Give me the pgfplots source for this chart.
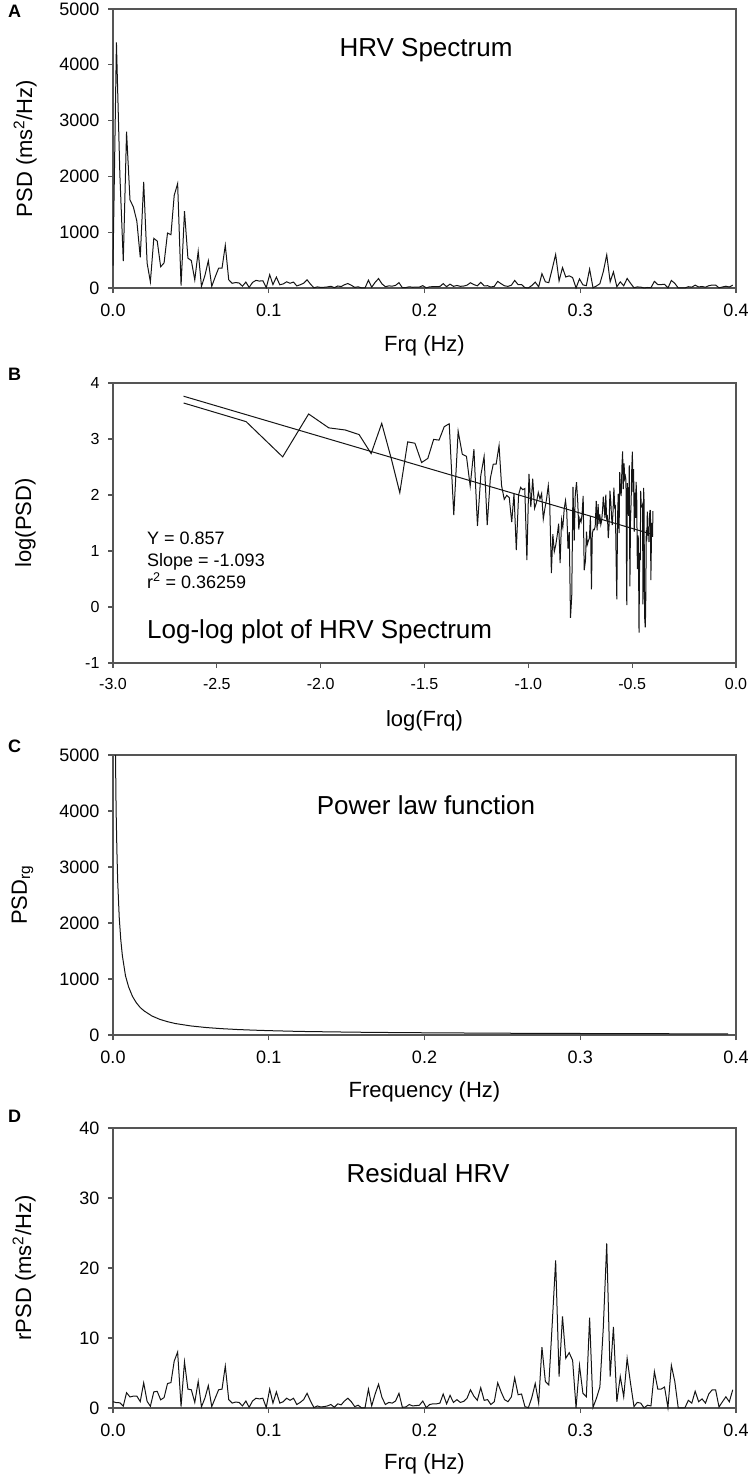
\documentclass[border=0pt]{standalone}
\usepackage{fontspec}
\setmainfont{Liberation Sans}
\usepackage{pgfplots}
\pgfplotsset{compat=1.18}
\usepackage{pgfplotstable}
\definecolor{axgray}{RGB}{85,85,85}
\definecolor{linecol}{RGB}{20,20,20}

\pgfplotstableread{
k f psd lx ly r
0 0.0000 400 nan nan 0.9
1 0.0022 4400 -2.660 3.643 0.76
2 0.0044 2040 -2.359 3.310 0.75
3 0.0066 480 -2.183 2.681 0.27
4 0.0087 2800 -2.058 3.447 2.19
5 0.0109 1580 -1.961 3.199 1.58
6 0.0131 1450 -1.882 3.161 1.7
7 0.0153 1200 -1.815 3.079 1.7
8 0.0175 550 -1.757 2.740 0.92
9 0.0197 1900 -1.706 3.279 3.6
10 0.0219 447 -1.660 2.650 0.95
11 0.0240 110 -1.619 2.041 0.26
12 0.0262 890 -1.581 2.949 2.31
13 0.0284 840 -1.546 2.924 2.38
14 0.0306 380 -1.514 2.580 1.17
15 0.0328 450 -1.484 2.653 1.49
16 0.0350 985 -1.456 2.993 3.5
17 0.0372 955 -1.430 2.980 3.63
18 0.0393 1660 -1.405 3.220 6.7
19 0.0415 1870 -1.381 3.272 8.0
20 0.0437 44 -1.359 1.643 0.2
21 0.0459 1377 -1.338 3.139 6.6
22 0.0481 535 -1.318 2.728 2.7
23 0.0503 491 -1.298 2.691 2.6
24 0.0525 144 -1.280 2.158 0.8
25 0.0547 656 -1.262 2.817 3.8
26 0.0568 28 -1.245 1.447 0.17
27 0.0590 222 -1.229 2.346 1.4
28 0.0612 488 -1.213 2.688 3.2
29 0.0634 29 -1.198 1.462 0.2
30 0.0656 198 -1.183 2.297 1.4
31 0.0678 354 -1.169 2.549 2.6
32 0.0700 356 -1.155 2.551 2.7
33 0.0721 764 -1.141 2.883 6.0
34 0.0743 148 -1.129 2.170 1.2
35 0.0765 84 -1.116 1.922 0.7
36 0.0787 98 -1.104 1.993 0.85
37 0.0809 90 -1.092 1.954 0.8
38 0.0831 33 -1.080 1.515 0.3
39 0.0853 106 -1.069 2.026 1.0
40 0.0874 10 -1.058 1.014 0.1
41 0.0896 100 -1.047 2.002 1.0
42 0.0918 137 -1.037 2.137 1.4
43 0.0940 124 -1.027 2.094 1.3
44 0.0962 130 -1.017 2.115 1.4
45 0.0984 7 -1.007 0.839 0.076
46 0.1006 239 -0.997 2.378 2.7
47 0.1027 61 -0.988 1.783 0.7
48 0.1049 195 -0.979 2.290 2.3
49 0.1071 58 -0.970 1.763 0.7
50 0.1093 73 -0.961 1.862 0.9
51 0.1115 111 -0.952 2.044 1.4
52 0.1137 85 -0.944 1.930 1.1
53 0.1159 106 -0.936 2.027 1.4
54 0.1180 37 -0.928 1.571 0.5
55 0.1202 58 -0.920 1.766 0.8
56 0.1224 86 -0.912 1.933 1.2
57 0.1246 147 -0.904 2.168 2.1
58 0.1268 69 -0.897 1.838 1.0
59 0.1290 4 -0.889 0.607 0.06
60 0.1312 20 -0.882 1.299 0.3
61 0.1333 10 -0.875 0.990 0.15
62 0.1355 13 -0.868 1.107 0.2
63 0.1377 19 -0.861 1.276 0.3
64 0.1399 31 -0.854 1.490 0.5
65 0.1421 6 -0.847 0.783 0.1
66 0.1443 36 -0.840 1.554 0.6
67 0.1465 26 -0.834 1.422 0.45
68 0.1486 58 -0.827 1.762 1.0
69 0.1508 80 -0.821 1.901 1.4
70 0.1530 50 -0.815 1.702 0.9
71 0.1552 11 -0.809 1.043 0.2
72 0.1574 22 -0.803 1.337 0.4
73 0.1596 0.6 -0.797 -0.192 0.012
74 0.1618 1.6 -0.791 0.199 0.03
75 0.1640 140 -0.785 2.147 2.7
76 0.1661 15 -0.779 1.186 0.3
77 0.1683 101 -0.774 2.005 2.0
78 0.1705 169 -0.768 2.228 3.4
79 0.1727 73 -0.762 1.866 1.5
80 0.1749 24 -0.757 1.384 0.5
81 0.1771 38 -0.752 1.583 0.8
82 0.1793 33 -0.746 1.518 0.7
83 0.1814 47 -0.741 1.668 1.0
84 0.1836 96 -0.736 1.984 2.1
85 0.1858 5 -0.731 0.657 0.1
86 0.1880 7 -0.725 0.826 0.15
87 0.1902 22 -0.720 1.344 0.5
88 0.1924 13 -0.716 1.117 0.3
89 0.1946 15 -0.711 1.179 0.35
90 0.1967 17 -0.706 1.231 0.4
91 0.1989 42 -0.701 1.624 1.0
92 0.2011 2 -0.696 0.317 0.05
93 0.2033 21 -0.692 1.313 0.5
94 0.2055 24 -0.687 1.387 0.6
95 0.2077 24 -0.682 1.381 0.6
96 0.2099 28 -0.678 1.444 0.7
97 0.2120 78 -0.673 1.894 2.0
98 0.2142 23 -0.669 1.367 0.6
99 0.2164 69 -0.664 1.838 1.8
100 0.2186 30 -0.660 1.482 0.8
101 0.2208 45 -0.656 1.654 1.2
102 0.2230 30 -0.651 1.472 0.8
103 0.2252 35 -0.647 1.543 0.95
104 0.2273 51 -0.643 1.706 1.4
105 0.2295 94 -0.639 1.971 2.6
106 0.2317 61 -0.635 1.782 1.7
107 0.2339 39 -0.631 1.588 1.1
108 0.2361 101 -0.627 2.005 2.9
109 0.2383 38 -0.623 1.580 1.1
110 0.2405 41 -0.619 1.613 1.2
111 0.2426 17 -0.615 1.229 0.5
112 0.2448 30 -0.611 1.479 0.9
113 0.2470 119 -0.607 2.077 3.6
114 0.2492 76 -0.603 1.879 2.3
115 0.2514 39 -0.599 1.591 1.2
116 0.2536 29 -0.596 1.463 0.9
117 0.2558 51 -0.592 1.709 1.6
118 0.2579 136 -0.588 2.133 4.3
119 0.2601 60 -0.584 1.775 1.9
120 0.2623 62 -0.581 1.794 2.0
121 0.2645 6 -0.577 0.789 0.2
122 0.2667 1.4 -0.574 0.138 0.045
123 0.2689 45 -0.570 1.657 1.5
124 0.2711 105 -0.567 2.021 3.5
125 0.2733 21 -0.563 1.318 0.7
126 0.2754 257 -0.560 2.410 8.7
127 0.2776 111 -0.556 2.045 3.8
128 0.2798 96 -0.553 1.981 3.3
129 0.2820 344 -0.549 2.537 12
130 0.2842 600 -0.546 2.778 21.1
131 0.2864 127 -0.543 2.104 4.5
132 0.2886 366 -0.539 2.564 13.1
133 0.2907 197 -0.536 2.294 7.1
134 0.2929 218 -0.533 2.338 7.9
135 0.2951 186 -0.530 2.270 6.8
136 0.2973 1.1 -0.526 0.035 0.04
137 0.2995 164 -0.523 2.214 6.1
138 0.3017 56 -0.520 1.748 2.1
139 0.3039 42 -0.517 1.627 1.6
140 0.3060 339 -0.514 2.530 12.9
141 0.3082 2.3 -0.511 0.370 0.09
142 0.3104 36 -0.508 1.559 1.4
143 0.3126 77 -0.505 1.887 3.0
144 0.3148 293 -0.502 2.467 11.5
145 0.3170 594 -0.499 2.774 23.5
146 0.3192 113 -0.496 2.053 4.5
147 0.3213 288 -0.493 2.460 11.6
148 0.3235 22 -0.490 1.347 0.9
149 0.3257 110 -0.487 2.043 4.5
150 0.3279 39 -0.484 1.591 1.6
151 0.3301 171 -0.481 2.234 7.1
152 0.3323 84 -0.478 1.924 3.5
153 0.3345 5 -0.475 0.678 0.2
154 0.3366 19 -0.472 1.277 0.8
155 0.3388 16 -0.470 1.216 0.7
156 0.3410 0.3 -0.467 -0.456 0.015
157 0.3432 9 -0.464 0.967 0.4
158 0.3454 7 -0.461 0.838 0.3
159 0.3476 119 -0.459 2.075 5.2
160 0.3498 61 -0.456 1.787 2.7
161 0.3519 61 -0.453 1.784 2.7
162 0.3541 67 -0.450 1.826 3.0
163 0.3563 1.1 -0.448 0.046 0.05
164 0.3585 135 -0.445 2.129 6.1
165 0.3607 84 -0.443 1.922 3.8
166 0.3629 0.7 -0.440 -0.184 0.03
167 0.3651 0.4 -0.437 -0.364 0.02
168 0.3672 0.9 -0.435 -0.065 0.04
169 0.3694 23 -0.432 1.371 1.1
170 0.3716 15 -0.430 1.173 0.7
171 0.3738 51 -0.427 1.704 2.4
172 0.3760 19 -0.424 1.275 0.9
173 0.3782 27 -0.422 1.433 1.3
174 0.3804 14 -0.419 1.161 0.7
175 0.3825 41 -0.417 1.614 2.0
176 0.3847 53 -0.414 1.725 2.6
177 0.3869 53 -0.412 1.723 2.6
178 0.3891 3 -0.410 0.482 0.15
179 0.3913 18 -0.407 1.256 0.9
180 0.3935 32 -0.405 1.504 1.6
181 0.3957 18 -0.402 1.251 0.9
182 0.3979 51 -0.400 1.710 2.6
}\hrv

\pgfplotstableread{
f p
0.0016 5000
0.0020 4000
0.0025 3300
0.0030 2750
0.0040 2100
0.0050 1700
0.0060 1420
0.0080 1060
0.0100 860
0.0125 690
0.0150 575
0.0175 490
0.0200 430
0.0250 340
0.0300 280
0.0350 238
0.0400 205
0.0500 162
0.0600 133
0.0700 113
0.0800 98
0.0900 87
0.1000 78
0.1200 64
0.1400 56
0.1600 49
0.1800 44
0.2000 40
0.2500 32
0.3000 27
0.3500 23
0.3950 20
}\powerlaw

\pgfplotsset{
  panel/.style={
    scale only axis, width=623pt, height=280pt, anchor=north west,
    axis line style={draw=axgray, line width=1.4pt},
    every tick/.style={draw=axgray, line width=1.2pt},
    tick align=outside, major tick length=5pt,
    xtick pos=left, ytick pos=left,
    clip=false, enlargelimits=false,
    tick label style={font=\fontsize{18}{18}\selectfont, text=black},
    xticklabel style={yshift=-7pt},
    yticklabel style={xshift=-5pt},
  },
  dataline/.style={color=linecol, line width=1pt, mark=none},
}

\begin{document}
\begin{tikzpicture}[x=1pt,y=1pt]
\useasboundingbox (0,0) rectangle (751,-1479);

% ---------------- A
\begin{axis}[panel, at={(113pt,-9pt)}, height=279pt,
  xmin=0, xmax=0.4, ymin=0, ymax=5000,
  xtick={0,0.1,0.2,0.3,0.4}, xticklabels={0.0,0.1,0.2,0.3,0.4},
  ytick={0,1000,2000,3000,4000,5000}, yticklabels={0,1000,2000,3000,4000,5000}]
\addplot[dataline] table[x=f, y=psd]{\hrv};
\end{axis}

% ---------------- B
\begin{axis}[panel, at={(113pt,-383pt)},
  xmin=-3, xmax=0, ymin=-1, ymax=4,
  tick label style={font=\fontsize{16}{16}\selectfont},
  xtick={-3,-2.5,-2,-1.5,-1,-0.5,0}, xticklabels={-3.0,-2.5,-2.0,-1.5,-1.0,-0.5,0.0},
  ytick={-1,0,1,2,3,4}, yticklabels={-1,0,1,2,3,4}]
\addplot[dataline] table[x=lx, y=ly]{\hrv};
\addplot[dataline] coordinates {(-2.660,3.764) (-0.400,1.294)};
\end{axis}

% ---------------- C
\begin{axis}[panel, at={(113pt,-755pt)},
  xmin=0, xmax=0.4, ymin=0, ymax=5000,
  xtick={0,0.1,0.2,0.3,0.4}, xticklabels={0.0,0.1,0.2,0.3,0.4},
  ytick={0,1000,2000,3000,4000,5000}, yticklabels={0,1000,2000,3000,4000,5000}]
\addplot[dataline] table[x=f, y=p]{\powerlaw};
\end{axis}

% ---------------- D
\begin{axis}[panel, at={(113pt,-1128pt)},
  xmin=0, xmax=0.4, ymin=0, ymax=40,
  xtick={0,0.1,0.2,0.3,0.4}, xticklabels={0.0,0.1,0.2,0.3,0.4},
  ytick={0,10,20,30,40}, yticklabels={0,10,20,30,40}]
\addplot[dataline] table[x=f, y=r]{\hrv};
\end{axis}

% panel letters
\begin{scope}[every node/.style={font=\bfseries\fontsize{18}{18}\selectfont, anchor=base west, inner sep=0pt}]
\node at (8,-18) {A};
\node at (8,-380) {B};
\node at (8,-752) {C};
\node at (8,-1122) {D};
\end{scope}

% titles
\begin{scope}[every node/.style={font=\fontsize{26}{26}\selectfont, inner sep=0pt}]
\node[anchor=base] at (426,-57) {HRV Spectrum};
\node[anchor=base west] at (147,-638) {Log-log plot of HRV Spectrum};
\node[anchor=base] at (426,-814) {Power law function};
\node[anchor=base] at (428,-1182) {Residual HRV};
\end{scope}

% fit statistics
\begin{scope}[every node/.style={font=\fontsize{18}{18}\selectfont, inner sep=0pt, anchor=base west}]
\node at (147,-544) {Y = 0.857};
\node at (147,-566) {Slope = -1.093};
\node at (147,-588) {r\textsuperscript{2} = 0.36259};
\end{scope}

% axis labels
\begin{scope}[every node/.style={font=\fontsize{22}{22}\selectfont, inner sep=0pt}]
\node[anchor=base] at (424.5,-351) {Frq (Hz)};
\node[anchor=base] at (424.5,-726) {log(Frq)};
\node[anchor=base] at (424.5,-1097) {Frequency (Hz)};
\node[anchor=base] at (424.5,-1469) {Frq (Hz)};
\node[anchor=base, rotate=90] at (32,-148.5) {PSD (ms\textsuperscript{2}/Hz)};
\node[anchor=base, rotate=90] at (31,-523) {log(PSD)};
\node[anchor=base, rotate=90] at (27,-895) {PSD\textsubscript{rg}};
\node[anchor=base, rotate=90] at (31,-1268) {rPSD (ms\textsuperscript{2}/Hz)};
\end{scope}
\end{tikzpicture}
\end{document}
